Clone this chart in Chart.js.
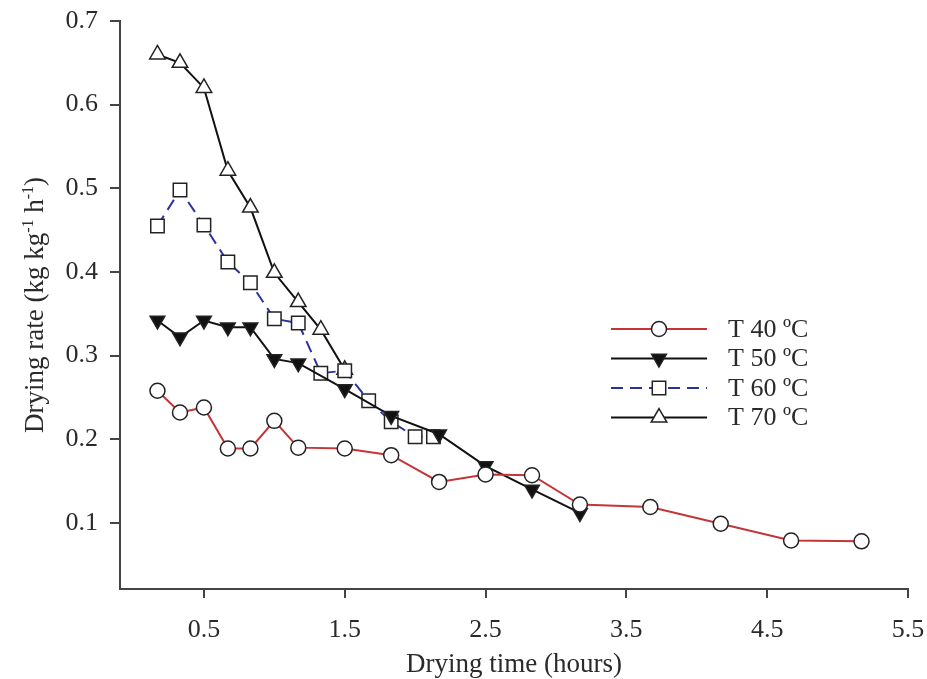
<!DOCTYPE html>
<html>
<head>
<meta charset="utf-8">
<script src="https://cdn.jsdelivr.net/npm/chart.js@4.4.1/dist/chart.umd.min.js"></script>
<style>
html, body { margin: 0; padding: 0; background: #fff; }
canvas { display: block; }
</style>
</head>
<body>
<canvas id="grafica" width="927" height="679"></canvas>
<script>
// Datos (tiempo en horas, velocidad en kg kg-1 h-1)
const tiempo40 = [0.17, 0.33, 0.5, 0.67, 0.83, 1.0, 1.17, 1.5, 1.83, 2.17, 2.5, 2.83, 3.17, 3.67, 4.17, 4.67, 5.17];
const tasa40   = [0.258, 0.232, 0.238, 0.189, 0.189, 0.222, 0.190, 0.189, 0.181, 0.149, 0.158, 0.157, 0.122, 0.119, 0.099, 0.079, 0.078];

const tiempo50 = [0.17, 0.33, 0.5, 0.67, 0.83, 1.0, 1.17, 1.5, 1.83, 2.17, 2.5, 2.83, 3.17];
const tasa50   = [0.342, 0.322, 0.342, 0.334, 0.334, 0.296, 0.291, 0.260, 0.228, 0.206, 0.168, 0.140, 0.112];

const tiempo60 = [0.17, 0.33, 0.5, 0.67, 0.83, 1.0, 1.17, 1.33, 1.5, 1.67, 1.83, 2.0, 2.13];
const tasa60   = [0.455, 0.498, 0.456, 0.412, 0.387, 0.344, 0.339, 0.279, 0.282, 0.246, 0.221, 0.203, 0.203];

const tiempo70 = [0.17, 0.33, 0.5, 0.67, 0.83, 1.0, 1.17, 1.33, 1.5];
const tasa70   = [0.660, 0.650, 0.620, 0.521, 0.477, 0.399, 0.364, 0.331, 0.283];

const etiquetas = ['T 40 ºC', 'T 50 ºC', 'T 60 ºC', 'T 70 ºC'];
const ticksX = [0.5, 1.5, 2.5, 3.5, 4.5, 5.5];
const ticksY = [0.1, 0.2, 0.3, 0.4, 0.5, 0.6, 0.7];
const tituloX = 'Drying time (hours)';

const fuente = '"Liberation Serif", "Times New Roman", serif';
const colorTexto = '#2a2a2a';
const colorEje = '#444';

function puntos(xs, ys) {
    return xs.map((x, i) => ({ x: x, y: ys[i] }));
}

// dibuja un marcador igual que en la gráfica (para la leyenda)
function marcador(ctx, ds, x, y) {
    const r = ds.pointRadius;
    ctx.save();
    ctx.fillStyle = ds.pointBackgroundColor;
    ctx.strokeStyle = ds.pointBorderColor;
    ctx.lineWidth = ds.pointBorderWidth;
    ctx.beginPath();
    if (ds.pointStyle === 'circle') {
        ctx.arc(x, y, r, 0, Math.PI * 2);
    } else if (ds.pointStyle === 'rect') {
        const s = r * Math.SQRT1_2;
        ctx.rect(x - s, y - s, 2 * s, 2 * s);
    } else {
        const rot = (ds.pointRotation || 0) * Math.PI / 180;
        for (let k = 0; k < 3; k++) {
            const a = rot + k * 2 * Math.PI / 3;
            const px = x + Math.sin(a) * r;
            const py = y - Math.cos(a) * r;
            if (k === 0) ctx.moveTo(px, py); else ctx.lineTo(px, py);
        }
        ctx.closePath();
    }
    ctx.fill();
    ctx.stroke();
    ctx.restore();
}

const textosPlugin = {
    id: 'textos',
    afterDraw(chart) {
        const ctx = chart.ctx;
        const area = chart.chartArea;
        ctx.save();
        ctx.fillStyle = colorTexto;

        // título eje X
        ctx.font = '27px ' + fuente;
        ctx.textAlign = 'center';
        ctx.textBaseline = 'alphabetic';
        ctx.fillText(tituloX, (area.left + area.right) / 2, 672);

        // título eje Y con superíndices
        const partes = [['Drying rate (kg kg', false], ['-1', true], [' h', false], ['-1', true], [')', false]];
        const fNormal = '27px ' + fuente;
        const fSup = '16px ' + fuente;
        let total = 0;
        partes.forEach(p => { ctx.font = p[1] ? fSup : fNormal; total += ctx.measureText(p[0]).width; });
        ctx.translate(43, (area.top + area.bottom) / 2);
        ctx.rotate(-Math.PI / 2);
        ctx.textAlign = 'left';
        let cx = -total / 2;
        partes.forEach(p => {
            ctx.font = p[1] ? fSup : fNormal;
            ctx.fillText(p[0], cx, p[1] ? -10 : 0);
            cx += ctx.measureText(p[0]).width;
        });
        ctx.restore();

        // leyenda
        ctx.save();
        chart.data.datasets.forEach((ds, i) => {
            const y = 329 + i * 29.5;
            ctx.strokeStyle = ds.borderColor;
            ctx.lineWidth = ds.borderWidth;
            ctx.setLineDash(ds.borderDash || []);
            ctx.beginPath();
            ctx.moveTo(611, y);
            ctx.lineTo(707, y);
            ctx.stroke();
            ctx.setLineDash([]);
            marcador(ctx, ds, 659, y);
            ctx.fillStyle = colorTexto;
            ctx.font = '26px ' + fuente;
            ctx.textAlign = 'left';
            ctx.textBaseline = 'middle';
            ctx.fillText(ds.label, 728, y + 1);
        });
        ctx.restore();
    }
};

const comun = {
    borderWidth: 2,
    pointBorderColor: '#222',
    pointBorderWidth: 1.5,
    tension: 0,
    fill: false
};

const ctx = document.getElementById('grafica').getContext('2d');
new Chart(ctx, {
    type: 'line',
    data: {
        datasets: [
            Object.assign({}, comun, {
                label: etiquetas[0],
                data: puntos(tiempo40, tasa40),
                borderColor: '#c43538',
                pointStyle: 'circle',
                pointRadius: 7.5,
                pointBackgroundColor: '#fff'
            }),
            Object.assign({}, comun, {
                label: etiquetas[1],
                data: puntos(tiempo50, tasa50),
                borderColor: '#111',
                pointStyle: 'triangle',
                pointRotation: 180,
                pointRadius: 8.5,
                pointBackgroundColor: '#111'
            }),
            Object.assign({}, comun, {
                label: etiquetas[2],
                data: puntos(tiempo60, tasa60),
                borderColor: '#2a32a0',
                borderDash: [12, 7],
                pointStyle: 'rect',
                pointRadius: 9.5,
                pointBackgroundColor: '#fff'
            }),
            Object.assign({}, comun, {
                label: etiquetas[3],
                data: puntos(tiempo70, tasa70),
                borderColor: '#111',
                pointStyle: 'triangle',
                pointRadius: 9,
                pointBackgroundColor: '#fff'
            })
        ]
    },
    options: {
        responsive: false,
        animation: false,
        layout: { padding: { top: 21, right: 19, left: 0, bottom: 0 } },
        plugins: {
            legend: { display: false },
            tooltip: { enabled: false }
        },
        scales: {
            x: {
                type: 'linear',
                min: -0.096,
                max: 5.5,
                afterBuildTicks: scale => { scale.ticks = ticksX.map(v => ({ value: v })); },
                afterFit: scale => {
                    scale.height = 90;
                    scale.paddingLeft = 0;
                    scale.paddingRight = 0;
                },
                grid: { drawOnChartArea: false, drawTicks: true, tickLength: 9, color: colorEje, lineWidth: 2 },
                border: { display: true, color: colorEje, width: 2 },
                ticks: {
                    color: colorTexto,
                    font: { family: fuente, size: 26 },
                    padding: 17,
                    maxRotation: 0,
                    callback: v => v.toFixed(1)
                }
            },
            y: {
                min: 0.021,
                max: 0.7,
                afterBuildTicks: scale => { scale.ticks = ticksY.map(v => ({ value: v })); },
                afterFit: scale => {
                    scale.width = 120;
                    scale.paddingTop = 0;
                    scale.paddingBottom = 0;
                },
                grid: { drawOnChartArea: false, drawTicks: true, tickLength: 10, color: colorEje, lineWidth: 2 },
                border: { display: true, color: colorEje, width: 2 },
                ticks: {
                    color: colorTexto,
                    font: { family: fuente, size: 26 },
                    padding: 12,
                    callback: v => v.toFixed(1)
                }
            }
        }
    },
    plugins: [textosPlugin]
});
</script>
</body>
</html>
